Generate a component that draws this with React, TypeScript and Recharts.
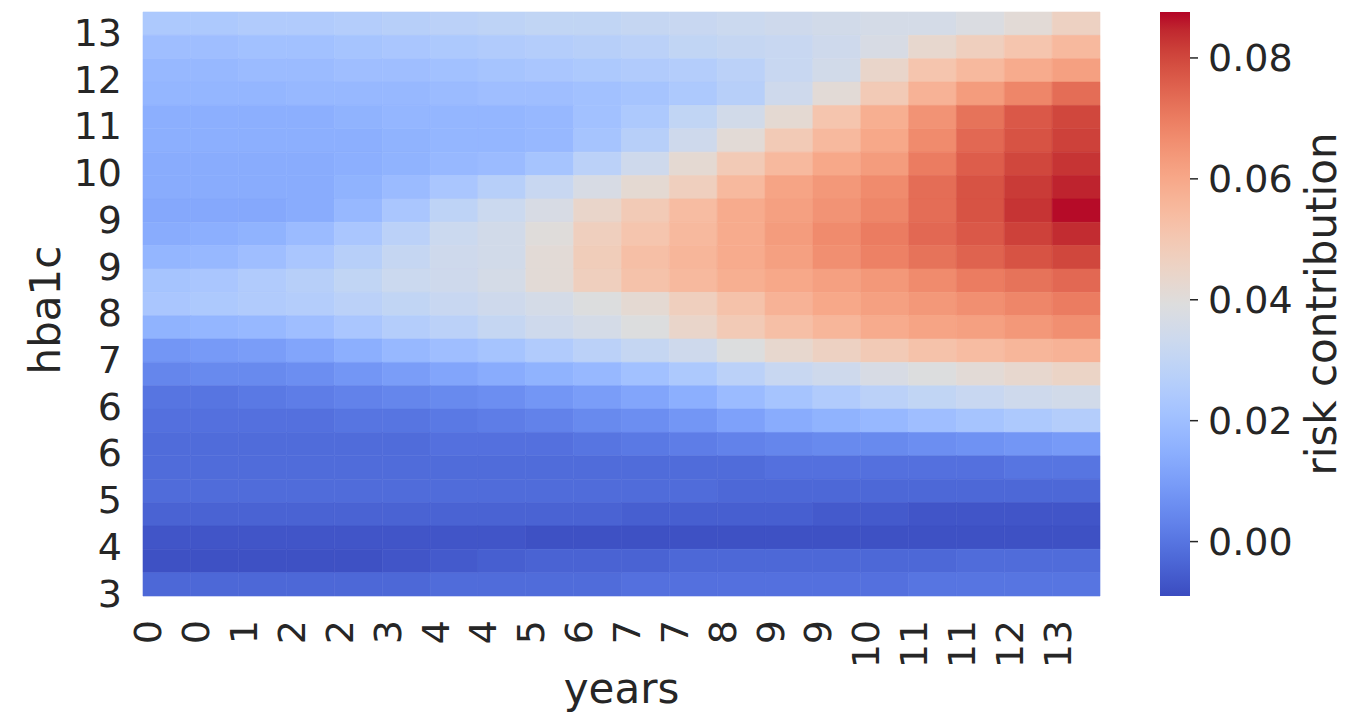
import React from 'react';
import { ComposedChart, XAxis, YAxis, ReferenceArea, Label } from 'recharts';

// x tick labels (years), one per 5 source columns, left to right
const yearLabels = ['0', '0', '1', '2', '2', '3', '4', '4', '5', '6', '7', '7', '8', '9', '9', '10', '11', '11', '12', '13'];
// y tick labels (hba1c), one per 8 source rows, bottom to top
const hba1cLabels = ['3', '4', '5', '6', '6', '7', '8', '9', '9', '10', '11', '12', '13'];
// colorbar
const colorbarTicks = [0, 0.02, 0.04, 0.06, 0.08];
const riskMin = -0.009;
const riskMax = 0.0876;

// risk contribution: 25 bands (top -> bottom) x 20 year bands (left -> right)
const riskRows: number[][] = [
  [0.024, 0.024, 0.025, 0.025, 0.026, 0.027, 0.028, 0.029, 0.030, 0.030, 0.031, 0.032, 0.033, 0.034, 0.035, 0.036, 0.036, 0.038, 0.041, 0.046],
  [0.020, 0.020, 0.021, 0.021, 0.022, 0.023, 0.024, 0.025, 0.026, 0.027, 0.028, 0.030, 0.031, 0.032, 0.034, 0.037, 0.043, 0.047, 0.051, 0.055],
  [0.018, 0.018, 0.019, 0.019, 0.020, 0.020, 0.021, 0.022, 0.023, 0.024, 0.025, 0.026, 0.028, 0.032, 0.035, 0.044, 0.051, 0.055, 0.059, 0.062],
  [0.017, 0.017, 0.017, 0.018, 0.018, 0.018, 0.019, 0.020, 0.020, 0.021, 0.022, 0.024, 0.027, 0.034, 0.041, 0.049, 0.057, 0.063, 0.068, 0.073],
  [0.015, 0.015, 0.015, 0.015, 0.016, 0.017, 0.017, 0.017, 0.018, 0.021, 0.024, 0.030, 0.035, 0.042, 0.051, 0.058, 0.065, 0.072, 0.077, 0.080],
  [0.015, 0.015, 0.015, 0.015, 0.015, 0.016, 0.017, 0.017, 0.018, 0.022, 0.027, 0.034, 0.041, 0.049, 0.055, 0.060, 0.067, 0.074, 0.078, 0.081],
  [0.014, 0.014, 0.014, 0.014, 0.015, 0.016, 0.018, 0.019, 0.022, 0.028, 0.034, 0.042, 0.049, 0.055, 0.060, 0.063, 0.070, 0.076, 0.080, 0.083],
  [0.014, 0.014, 0.014, 0.014, 0.016, 0.019, 0.023, 0.027, 0.032, 0.037, 0.042, 0.047, 0.055, 0.061, 0.064, 0.067, 0.073, 0.078, 0.082, 0.085],
  [0.013, 0.013, 0.013, 0.014, 0.018, 0.023, 0.029, 0.033, 0.037, 0.044, 0.049, 0.054, 0.059, 0.062, 0.065, 0.068, 0.073, 0.078, 0.083, 0.087],
  [0.014, 0.015, 0.016, 0.019, 0.023, 0.028, 0.033, 0.035, 0.040, 0.047, 0.051, 0.055, 0.059, 0.063, 0.067, 0.070, 0.074, 0.077, 0.081, 0.084],
  [0.017, 0.018, 0.020, 0.023, 0.027, 0.031, 0.034, 0.035, 0.041, 0.048, 0.053, 0.056, 0.059, 0.062, 0.066, 0.069, 0.072, 0.075, 0.078, 0.080],
  [0.022, 0.023, 0.025, 0.027, 0.030, 0.033, 0.034, 0.036, 0.041, 0.047, 0.052, 0.055, 0.058, 0.060, 0.062, 0.064, 0.067, 0.070, 0.072, 0.074],
  [0.023, 0.024, 0.025, 0.026, 0.028, 0.030, 0.032, 0.034, 0.036, 0.039, 0.042, 0.047, 0.052, 0.057, 0.060, 0.062, 0.064, 0.066, 0.068, 0.070],
  [0.016, 0.017, 0.018, 0.020, 0.023, 0.026, 0.028, 0.031, 0.034, 0.036, 0.039, 0.044, 0.049, 0.053, 0.056, 0.059, 0.061, 0.062, 0.064, 0.066],
  [0.008, 0.009, 0.010, 0.012, 0.015, 0.018, 0.020, 0.022, 0.025, 0.028, 0.031, 0.034, 0.039, 0.043, 0.046, 0.049, 0.052, 0.054, 0.056, 0.057],
  [0.004, 0.005, 0.005, 0.006, 0.008, 0.010, 0.012, 0.014, 0.016, 0.018, 0.021, 0.024, 0.028, 0.032, 0.034, 0.037, 0.039, 0.041, 0.043, 0.045],
  [0.000, 0.000, 0.001, 0.002, 0.003, 0.004, 0.005, 0.006, 0.008, 0.010, 0.012, 0.015, 0.019, 0.022, 0.025, 0.028, 0.030, 0.032, 0.034, 0.035],
  [-0.001, -0.001, -0.001, -0.001, 0.000, 0.000, 0.001, 0.002, 0.003, 0.005, 0.006, 0.008, 0.011, 0.014, 0.016, 0.018, 0.020, 0.022, 0.024, 0.026],
  [-0.002, -0.002, -0.002, -0.002, -0.002, -0.002, -0.001, -0.001, -0.001, 0.000, 0.001, 0.002, 0.003, 0.004, 0.005, 0.005, 0.006, 0.007, 0.008, 0.009],
  [-0.002, -0.002, -0.002, -0.002, -0.002, -0.002, -0.002, -0.002, -0.002, -0.002, -0.002, -0.002, -0.002, -0.001, -0.001, -0.001, -0.001, -0.001, 0.000, 0.000],
  [-0.002, -0.002, -0.002, -0.002, -0.002, -0.002, -0.002, -0.002, -0.002, -0.002, -0.002, -0.002, -0.003, -0.003, -0.003, -0.003, -0.003, -0.003, -0.003, -0.003],
  [-0.004, -0.004, -0.004, -0.004, -0.004, -0.004, -0.004, -0.004, -0.004, -0.004, -0.005, -0.005, -0.005, -0.005, -0.006, -0.006, -0.007, -0.007, -0.007, -0.007],
  [-0.007, -0.007, -0.007, -0.007, -0.007, -0.007, -0.007, -0.007, -0.008, -0.008, -0.008, -0.008, -0.008, -0.008, -0.008, -0.008, -0.008, -0.008, -0.008, -0.008],
  [-0.008, -0.008, -0.008, -0.008, -0.008, -0.007, -0.006, -0.005, -0.004, -0.004, -0.004, -0.003, -0.003, -0.003, -0.003, -0.003, -0.003, -0.002, -0.002, -0.002],
  [-0.003, -0.003, -0.003, -0.003, -0.003, -0.003, -0.002, -0.002, -0.002, -0.002, -0.001, -0.001, -0.001, -0.001, -0.001, -0.001, 0.000, 0.000, 0.000, 0.000],
];

// matplotlib "coolwarm" colormap (33 anchors)
const COOLWARM: number[][] = [
  [59, 76, 192], [68, 90, 204], [77, 104, 215], [87, 117, 225], [98, 130, 234], [108, 142, 241], [119, 154, 247], [130, 165, 251],
  [141, 176, 254], [152, 185, 255], [163, 194, 255], [174, 201, 253], [184, 208, 249], [194, 213, 244], [204, 217, 238], [213, 219, 230],
  [221, 221, 221], [229, 216, 209], [236, 211, 197], [241, 204, 185], [245, 196, 173], [247, 187, 160], [247, 177, 148], [247, 166, 135],
  [244, 154, 123], [241, 141, 111], [236, 127, 99], [229, 112, 88], [222, 96, 77], [213, 80, 66], [203, 62, 56], [192, 40, 47], [180, 4, 38],
];

const cmapAt = (t: number) => {
  const tt = Math.max(0, Math.min(1, t));
  const p = tt * (COOLWARM.length - 1);
  const i = Math.min(COOLWARM.length - 2, Math.floor(p));
  const f = p - i;
  const a = COOLWARM[i];
  const b = COOLWARM[i + 1];
  const c = [0, 1, 2].map((k) => Math.round(a[k] + (b[k] - a[k]) * f));
  return `rgb(${c[0]},${c[1]},${c[2]})`;
};
const riskColor = (v: number) => cmapAt((v - riskMin) / (riskMax - riskMin));

const COLS = 100; // source grid columns
const ROWS = 100; // source grid rows
const colSpan = COLS / riskRows[0].length;
const rowSpan = ROWS / riskRows.length;

const xTicks = yearLabels.map((_, i) => i * 5 + 0.5);
const yTicks = hba1cLabels.map((_, i) => i * 8 + 0.5);

const cells = riskRows.flatMap((row, r) =>
  row.map((v, c) => ({
    x1: c * colSpan,
    x2: (c + 1) * colSpan,
    y1: ROWS - (r + 1) * rowSpan,
    y2: ROWS - r * rowSpan,
    x: c * colSpan + colSpan / 2,
    y: ROWS - r * rowSpan - rowSpan / 2,
    v,
  }))
);

const FONT = 'DejaVu Sans';
const INK = '#262626';

const YearTick = (props: any) => {
  const { x, y, payload } = props;
  const idx = xTicks.indexOf(payload.value);
  return (
    <text
      x={x}
      y={y}
      transform={`rotate(-90, ${x}, ${y})`}
      textAnchor="end"
      dy="0.36em"
      fontSize={38}
      fontFamily={FONT}
      fill={INK}
    >
      {yearLabels[idx]}
    </text>
  );
};

export default function App() {
  return (
    <div style={{ position: 'absolute', left: 0, top: 0, width: 1354, height: 728, background: '#fff' }}>
      <div style={{ position: 'absolute', left: 0, top: 0 }}>
        <ComposedChart width={1354} height={728} data={cells} margin={{ top: 12, right: 254, bottom: 0, left: 0 }}>
          <XAxis
            type="number"
            dataKey="x"
            domain={[0, COLS]}
            ticks={xTicks}
            interval={0}
            height={132}
            tickLine={false}
            axisLine={false}
            tickSize={0}
            tickMargin={24}
            tick={<YearTick />}
            allowDataOverflow
          >
            <Label
              content={(p: any) => {
                const vb = p.viewBox;
                return (
                  <text x={vb.x + vb.width / 2} y={vb.y + vb.height - 25} textAnchor="middle" fontSize={42} fontFamily={FONT} fill={INK}>
                    years
                  </text>
                );
              }}
            />
          </XAxis>
          <YAxis
            type="number"
            dataKey="y"
            domain={[0, ROWS]}
            ticks={yTicks}
            interval={0}
            width={143}
            tickLine={false}
            axisLine={false}
            tickSize={0}
            tickMargin={21}
            tickFormatter={(v: number) => hba1cLabels[yTicks.indexOf(v)]}
            tick={{ fontSize: 38, fontFamily: FONT, fill: INK }}
            allowDataOverflow
          >
            <Label
              content={(p: any) => {
                const vb = p.viewBox;
                const cx = vb.x + 60;
                const cy = vb.y + vb.height / 2 + 6;
                return (
                  <text x={cx} y={cy} transform={`rotate(-90, ${cx}, ${cy})`} textAnchor="middle" fontSize={42} fontFamily={FONT} fill={INK}>
                    hba1c
                  </text>
                );
              }}
            />
          </YAxis>
          {cells.map((c, i) => (
            <ReferenceArea
              key={i}
              x1={c.x1}
              x2={c.x2}
              y1={c.y1}
              y2={c.y2}
              fill={riskColor(c.v)}
              fillOpacity={1}
              stroke={riskColor(c.v)}
              strokeWidth={0.6}
              isFront={false}
            />
          ))}
        </ComposedChart>
      </div>
      <div style={{ position: 'absolute', left: 0, top: 0 }}>
        <ComposedChart width={1354} height={728} data={[{ a: 0 }]} margin={{ top: 12, right: 0, bottom: 132, left: 1160 }}>
          <defs>
            <linearGradient id="cbarGrad" x1="0" y1="1" x2="0" y2="0">
              {COOLWARM.map((c, i) => (
                <stop key={i} offset={`${(i / (COOLWARM.length - 1)) * 100}%`} stopColor={`rgb(${c[0]},${c[1]},${c[2]})`} />
              ))}
            </linearGradient>
          </defs>
          <XAxis type="number" dataKey="a" domain={[0, 1]} hide />
          <YAxis
            type="number"
            orientation="right"
            domain={[riskMin, riskMax]}
            ticks={colorbarTicks}
            interval={0}
            width={164}
            axisLine={false}
            tickLine={{ stroke: INK, strokeWidth: 1.5 }}
            tickSize={8}
            tickMargin={10}
            tickFormatter={(v: number) => v.toFixed(2)}
            tick={{ fontSize: 38, fontFamily: FONT, fill: INK }}
            allowDataOverflow
          >
            <Label
              content={(p: any) => {
                const vb = p.viewBox;
                const cx = vb.x + 146;
                const cy = vb.y + vb.height / 2;
                return (
                  <text x={cx} y={cy} transform={`rotate(-90, ${cx}, ${cy})`} textAnchor="middle" fontSize={42} fontFamily={FONT} fill={INK}>
                    risk contribution
                  </text>
                );
              }}
            />
          </YAxis>
          <ReferenceArea x1={0} x2={1} y1={riskMin} y2={riskMax} fill="url(#cbarGrad)" fillOpacity={1} stroke="none" />
        </ComposedChart>
      </div>
    </div>
  );
}
